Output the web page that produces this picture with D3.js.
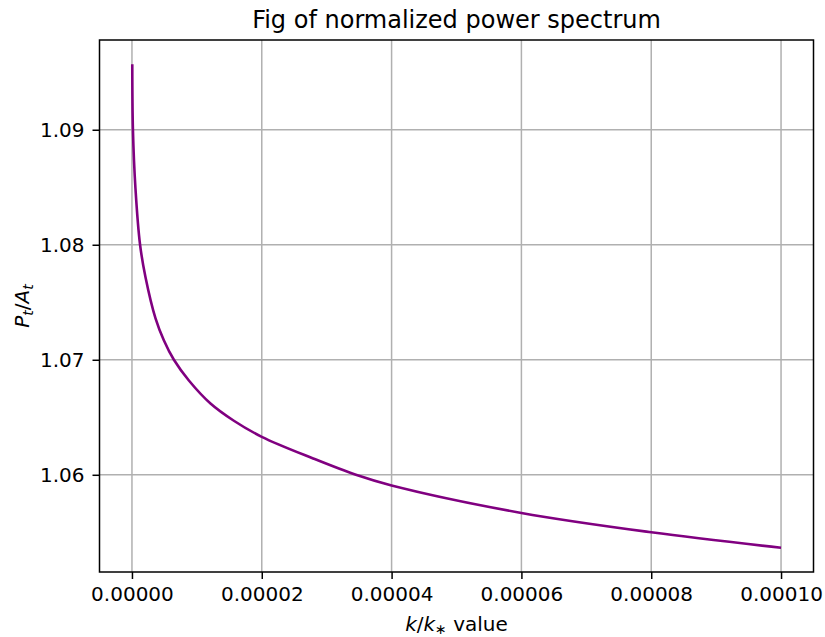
<!DOCTYPE html>
<html>
<head>
<meta charset="utf-8">
<script src="https://cdn.jsdelivr.net/npm/d3@7"></script>
<style>
  body { margin: 0; background: #fff; }
  text { font-family: "DejaVu Sans", sans-serif; fill: #000; }
</style>
</head>
<body>
<div id="chart"></div>
<script>
// values
var kValues = [5e-8, 1.5e-7, 5.4e-7, 1.25e-6, 2.08e-6, 3.63e-6, 4.91e-6, 6.46e-6, 8.77e-6, 1.21e-5, 1.57e-5, 2.0e-5, 2.8e-5, 3.45e-5, 4.0e-5, 6.0e-5, 8.0e-5, 1.0e-4];
var ptValues = [1.0957, 1.0900, 1.0849, 1.0800, 1.0772, 1.0736, 1.0717, 1.0700, 1.0682, 1.0662, 1.0647, 1.0633, 1.0614, 1.0600, 1.05907, 1.05668, 1.0550, 1.05365];
var xTicks = [0, 0.00002, 0.00004, 0.00006, 0.00008, 0.0001];
var yTicks = [1.06, 1.07, 1.08, 1.09];

var svgWidth = 825;
var svgHeight = 637;

var margin = { top: 40, right: 11.5, bottom: 65, left: 99.5 };
var width = svgWidth - margin.left - margin.right;
var height = svgHeight - margin.top - margin.bottom;

var data = kValues.map(function (k, i) { return { k: k, p: ptValues[i] }; });

var svg = d3.select("#chart")
    .append("svg")
    .attr("width", svgWidth)
    .attr("height", svgHeight);

var chartGroup = svg.append("g")
    .attr("transform", `translate(${margin.left}, ${margin.top})`);

// matplotlib style 5% padding
var xMin = 0, xMax = 0.0001;
var xPad = (xMax - xMin) * 0.05;
var yMin = d3.min(ptValues), yMax = d3.max(ptValues);
var yPad = (yMax - yMin) * 0.05;

var xScale = d3.scaleLinear()
    .domain([xMin - xPad, xMax + xPad])
    .range([0, width]);

var yScale = d3.scaleLinear()
    .domain([yMin - yPad, yMax + yPad])
    .range([height, 0]);

// grid
chartGroup.append("g")
    .selectAll("line.vgrid")
    .data(xTicks)
    .enter()
    .append("line")
    .attr("x1", d => xScale(d))
    .attr("x2", d => xScale(d))
    .attr("y1", 0)
    .attr("y2", height)
    .attr("stroke", "#b0b0b0")
    .attr("stroke-width", 1.5);

chartGroup.append("g")
    .selectAll("line.hgrid")
    .data(yTicks)
    .enter()
    .append("line")
    .attr("x1", 0)
    .attr("x2", width)
    .attr("y1", d => yScale(d))
    .attr("y2", d => yScale(d))
    .attr("stroke", "#b0b0b0")
    .attr("stroke-width", 1.5);

// the curve
var line = d3.line()
    .x(d => xScale(d.k))
    .y(d => yScale(d.p))
    .curve(d3.curveCatmullRom.alpha(0.5));

chartGroup.append("path")
    .datum(data)
    .attr("d", line)
    .attr("fill", "none")
    .attr("stroke", "#800080")
    .attr("stroke-width", 2.6);

// axes
var bottomAxis = d3.axisBottom(xScale)
    .tickValues(xTicks)
    .tickSize(7)
    .tickPadding(8)
    .tickFormat(d3.format(".5f"));

var leftAxis = d3.axisLeft(yScale)
    .tickValues(yTicks)
    .tickSize(7)
    .tickPadding(8)
    .tickFormat(d3.format(".2f"));

var xAxis = chartGroup.append("g")
    .attr("transform", `translate(0, ${height})`)
    .call(bottomAxis);

var yAxis = chartGroup.append("g")
    .call(leftAxis);

[xAxis, yAxis].forEach(function (ax) {
    ax.select(".domain").remove();
    ax.selectAll(".tick line").attr("stroke", "#000").attr("stroke-width", 1.5);
    ax.selectAll(".tick text")
        .style("font-family", "DejaVu Sans")
        .style("font-size", "20px")
        .attr("fill", "#000");
});

// frame
chartGroup.append("rect")
    .attr("x", 0)
    .attr("y", 0)
    .attr("width", width)
    .attr("height", height)
    .attr("fill", "none")
    .attr("stroke", "#000")
    .attr("stroke-width", 1.5);

// title
svg.append("text")
    .attr("x", margin.left + width / 2)
    .attr("y", 27.5)
    .attr("text-anchor", "middle")
    .style("font-size", "24px")
    .text("Fig of normalized power spectrum");

// x label
var xLabel = svg.append("text")
    .attr("x", margin.left + width / 2)
    .attr("y", 631)
    .attr("text-anchor", "middle")
    .style("font-size", "20px");
xLabel.append("tspan").style("font-style", "italic").text("k");
xLabel.append("tspan").text("/");
xLabel.append("tspan").style("font-style", "italic").text("k");
xLabel.append("tspan").attr("dy", 3).style("font-size", "14px").text("∗");
xLabel.append("tspan").attr("dy", -3).text(" value");

// y label
var yLabel = svg.append("text")
    .attr("transform", `translate(29, ${margin.top + height / 2}) rotate(-90)`)
    .attr("text-anchor", "middle")
    .style("font-size", "20px");
yLabel.append("tspan").style("font-style", "italic").text("P");
yLabel.append("tspan").attr("dy", 4).style("font-style", "italic").style("font-size", "14px").text("t");
yLabel.append("tspan").attr("dy", -4).text("/");
yLabel.append("tspan").style("font-style", "italic").text("A");
yLabel.append("tspan").attr("dy", 4).style("font-style", "italic").style("font-size", "14px").text("t");
</script>
</body>
</html>
